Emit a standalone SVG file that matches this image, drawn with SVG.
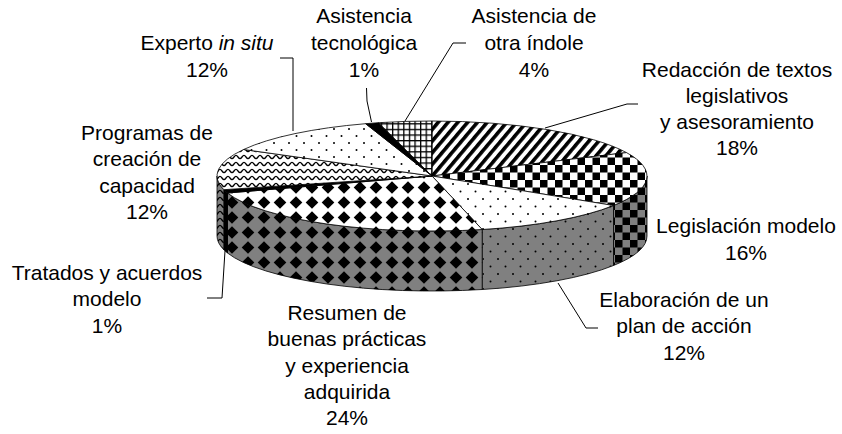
<svg xmlns="http://www.w3.org/2000/svg" width="842" height="434" viewBox="0 0 842 434">
<style>
text{font-family:"Liberation Sans",Arial,sans-serif;font-size:21px;fill:#000;text-anchor:middle}
.f{stroke:#000;stroke-width:0.8;stroke-linejoin:round}
.ld{fill:none;stroke:#000;stroke-width:1}
</style>
<defs>
<pattern id="pStripe" patternUnits="userSpaceOnUse" width="7.5" height="7.5" patternTransform="rotate(40)">
<rect width="7.5" height="7.5" fill="#fff"/><rect width="3.6" height="7.5" fill="#000"/>
</pattern>
<pattern id="pChk" patternUnits="userSpaceOnUse" width="15" height="15">
<rect width="15" height="15" fill="#fff"/><rect width="7.5" height="7.5" fill="#000"/><rect x="7.5" y="7.5" width="7.5" height="7.5" fill="#000"/>
</pattern>
<pattern id="pChkG" patternUnits="userSpaceOnUse" width="15" height="15">
<rect width="15" height="15" fill="#808080"/><rect width="7.5" height="7.5" fill="#000"/><rect x="7.5" y="7.5" width="7.5" height="7.5" fill="#000"/>
</pattern>
<pattern id="pDot" patternUnits="userSpaceOnUse" width="15" height="15">
<rect width="15" height="15" fill="#fff"/><circle cx="3" cy="4" r="1" fill="#000"/><circle cx="10.5" cy="11.5" r="1" fill="#000"/>
</pattern>
<pattern id="pDotG" patternUnits="userSpaceOnUse" width="15" height="15">
<rect width="15" height="15" fill="#808080"/><circle cx="3" cy="4" r="1" fill="#000"/><circle cx="10.5" cy="11.5" r="1" fill="#000"/>
</pattern>
<pattern id="pDot2" patternUnits="userSpaceOnUse" width="15" height="14">
<rect width="15" height="14" fill="#fff"/><circle cx="4" cy="3" r="1" fill="#000"/><circle cx="11.5" cy="10" r="1" fill="#000"/>
</pattern>
<pattern id="pDia" patternUnits="userSpaceOnUse" width="16" height="15">
<rect width="16" height="15" fill="#fff"/><path d="M8,1.2 L14.3,7.5 L8,13.8 L1.7,7.5 Z" fill="#000"/>
</pattern>
<pattern id="pDiaG" patternUnits="userSpaceOnUse" width="16" height="15">
<rect width="16" height="15" fill="#808080"/><path d="M8,1.2 L14.3,7.5 L8,13.8 L1.7,7.5 Z" fill="#000"/>
</pattern>
<pattern id="pWave" patternUnits="userSpaceOnUse" width="8" height="7">
<rect width="8" height="7" fill="#fff"/><path d="M0,4.6 C1.6,4.6 2.4,1.4 4,1.4 C5.6,1.4 6.4,4.6 8,4.6" fill="none" stroke="#000" stroke-width="1.3"/>
</pattern>
<pattern id="pWaveG" patternUnits="userSpaceOnUse" width="8" height="7">
<rect width="8" height="7" fill="#808080"/><path d="M0,4.6 C1.6,4.6 2.4,1.4 4,1.4 C5.6,1.4 6.4,4.6 8,4.6" fill="none" stroke="#000" stroke-width="1.3"/>
</pattern>
<pattern id="pGrid" patternUnits="userSpaceOnUse" width="5.6" height="5.6">
<rect width="5.6" height="5.6" fill="#fff"/><rect width="1.3" height="5.6" fill="#000"/><rect width="5.6" height="1.3" fill="#000"/>
</pattern>
</defs>

<g id="redaccion">
<path class="f" fill="url(#pStripe)" d="M432,176 L432,121 A215,55 0 0 1 626.5,152.6 Z"/>
<text x="737" y="77">Redacción de textos</text>
<text x="737" y="103">legislativos</text>
<text x="737" y="129">y asesoramiento</text>
<text x="737" y="155">18%</text>
</g>
<g id="legislacion">
<path class="f" fill="url(#pChkG)" d="M647,176 A215,55 0 0 1 613.5,205.5 L613.5,265.5 A215,55 0 0 0 647,236 Z"/>
<path class="f" fill="url(#pChk)" d="M432,176 L626.5,152.6 A215,55 0 0 1 613.5,205.5 Z"/>
<text x="746" y="233">Legislación modelo</text>
<text x="746" y="260">16%</text>
</g>
<g id="elaboracion">
<path class="f" fill="url(#pDotG)" d="M613.5,205.5 A215,55 0 0 1 482.2,229.5 L482.2,289.5 A215,55 0 0 0 613.5,265.5 Z"/>
<path class="f" fill="url(#pDot)" d="M432,176 L613.5,205.5 A215,55 0 0 1 482.2,229.5 Z"/>
<text x="684" y="307">Elaboración de un</text>
<text x="684" y="333">plan de acción</text>
<text x="684" y="360">12%</text>
</g>
<g id="resumen">
<path class="f" fill="url(#pDiaG)" d="M482.2,229.5 A215,55 0 0 1 227.5,193 L227.5,253 A215,55 0 0 0 482.2,289.5 Z"/>
<path class="f" fill="url(#pDia)" d="M432,176 L482.2,229.5 A215,55 0 0 1 227.5,193 Z"/>
<text x="347" y="320">Resumen de</text>
<text x="347" y="346">buenas prácticas</text>
<text x="347" y="373">y experiencia</text>
<text x="347" y="399">adquirida</text>
<text x="347" y="425">24%</text>
</g>
<g id="tratados">
<path class="f" fill="#000" d="M227.5,193 A215,55 0 0 1 223.8,189.7 L223.8,249.7 A215,55 0 0 0 227.5,253 Z"/>
<path class="f" fill="#000" d="M432,176 L227.5,193 A215,55 0 0 1 223.8,189.7 Z"/>
<text x="107" y="280">Tratados y acuerdos</text>
<text x="107" y="306">modelo</text>
<text x="107" y="333">1%</text>
</g>
<g id="programas">
<path class="f" fill="url(#pWaveG)" d="M223.8,189.7 A215,55 0 0 1 217,176 L217,236 A215,55 0 0 0 223.8,249.7 Z"/>
<path class="f" fill="url(#pWave)" d="M432,176 L223.8,189.7 A215,55 0 0 1 243.6,149.5 Z"/>
<text x="147" y="140">Programas de</text>
<text x="147" y="166">creación de</text>
<text x="147" y="193">capacidad</text>
<text x="147" y="219">12%</text>
</g>
<g id="experto">
<path class="f" fill="url(#pDot2)" d="M432,176 L243.6,149.5 A215,55 0 0 1 365.6,123.7 Z"/>
<text x="207" y="50">Experto <tspan font-style="italic">in situ</tspan></text>
<text x="207" y="77">12%</text>
</g>
<g id="asistencia-tecnologica">
<path class="f" fill="#000" d="M432,176 L365.6,123.7 A215,55 0 0 1 378.5,122.7 Z"/>
<text x="364" y="23">Asistencia</text>
<text x="364" y="50">tecnológica</text>
<text x="364" y="77">1%</text>
</g>
<g id="asistencia-otra">
<path class="f" fill="url(#pGrid)" d="M432,176 L378.5,122.7 A215,55 0 0 1 432,121 Z"/>
<text x="534" y="23">Asistencia de</text>
<text x="534" y="50">otra índole</text>
<text x="534" y="77">4%</text>
</g>

<g id="connectors">
<path class="ld" d="M280,58 H293 V131"/>
<path class="ld" d="M366.5,88 L367,101 L371.5,122"/>
<path class="ld" d="M466,43 H453 L405,121"/>
<path class="ld" d="M638,104 H627 L545,128"/>
<path class="ld" d="M558,283 L586,328 H598"/>
<path class="ld" d="M207,298 H222 L225,251"/>
</g>
</svg>
